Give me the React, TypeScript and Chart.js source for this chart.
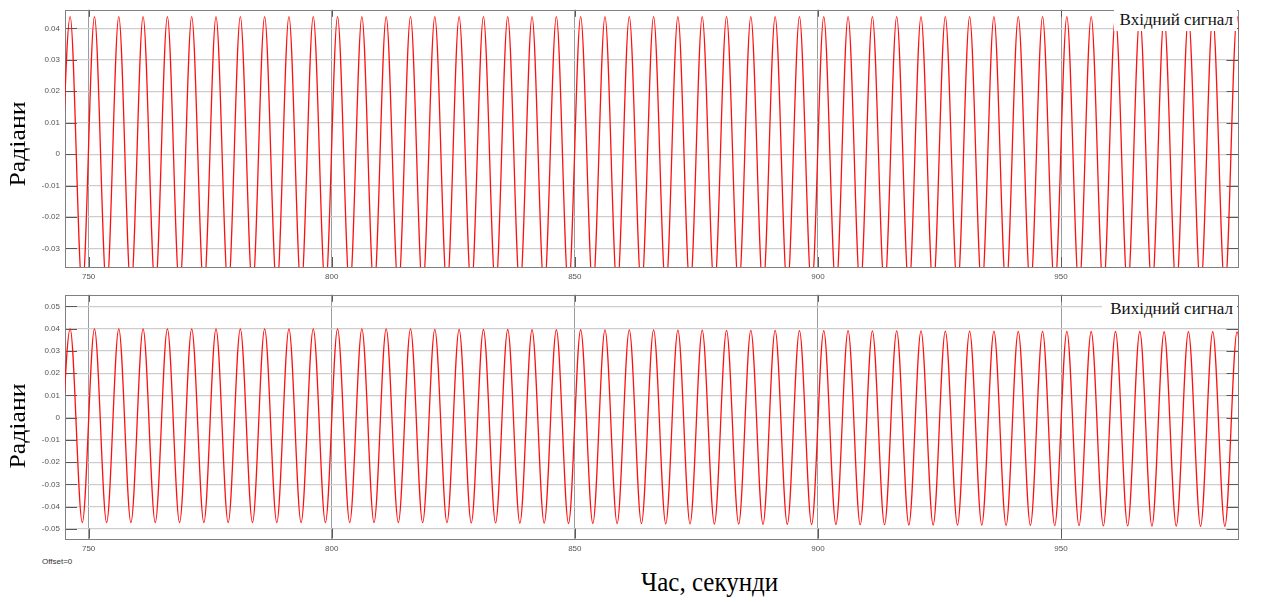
import React, { useEffect, useRef } from "react";
import { Chart, registerables } from "chart.js";

Chart.register(...registerables);

// Times (s) of the local maxima / minima
const peakTimes = [
  746.2, 751.2, 756.2, 761.2, 766.2, 771.2, 776.2, 781.2, 786.2, 791.2,
  796.2, 801.2, 806.2, 811.2, 816.2, 821.2, 826.2, 831.2, 836.2, 841.2,
  846.2, 851.2, 856.2, 861.2, 866.2, 871.2, 876.2, 881.2, 886.2, 891.2,
  896.2, 901.2, 906.2, 911.2, 916.2, 921.2, 926.2, 931.2, 936.2, 941.2,
  946.2, 951.2, 956.2, 961.2, 966.2, 971.2, 976.2, 981.2, 986.2,
];
const troughTimes = [
  743.7, 748.7, 753.7, 758.7, 763.7, 768.7, 773.7, 778.7, 783.7, 788.7,
  793.7, 798.7, 803.7, 808.7, 813.7, 818.7, 823.7, 828.7, 833.7, 838.7,
  843.7, 848.7, 853.7, 858.7, 863.7, 868.7, 873.7, 878.7, 883.7, 888.7,
  893.7, 898.7, 903.7, 908.7, 913.7, 918.7, 923.7, 928.7, 933.7, 938.7,
  943.7, 948.7, 953.7, 958.7, 963.7, 968.7, 973.7, 978.7, 983.7, 988.7,
];

// Input signal (top panel), radians
const inputPeaks = [
  0.0437, 0.0437, 0.0437, 0.0437, 0.0437, 0.0437, 0.0437, 0.0437, 0.0437, 0.0437,
  0.0437, 0.0437, 0.0437, 0.0437, 0.0437, 0.0437, 0.0437, 0.0437, 0.0437, 0.0437,
  0.0437, 0.0437, 0.0437, 0.0437, 0.0437, 0.0437, 0.0437, 0.0437, 0.0437, 0.0437,
  0.0437, 0.0437, 0.0437, 0.0437, 0.0437, 0.0437, 0.0437, 0.0437, 0.0437, 0.0437,
  0.0437, 0.0437, 0.0437, 0.0437, 0.0437, 0.0437, 0.0437, 0.0437, 0.0437,
];
const inputTroughs = [
  -0.043, -0.043, -0.043, -0.043, -0.043, -0.043, -0.043, -0.043, -0.043, -0.043,
  -0.043, -0.043, -0.043, -0.043, -0.043, -0.043, -0.043, -0.043, -0.043, -0.043,
  -0.043, -0.043, -0.043, -0.043, -0.043, -0.043, -0.043, -0.043, -0.043, -0.043,
  -0.043, -0.043, -0.043, -0.043, -0.043, -0.043, -0.043, -0.043, -0.043, -0.043,
  -0.043, -0.043, -0.043, -0.043, -0.043, -0.043, -0.043, -0.043, -0.043, -0.043,
];

// Output signal (bottom panel), radians
const outputPeaks = [
  0.0399, 0.0399, 0.0399, 0.0399, 0.0399, 0.0399, 0.0399, 0.0399, 0.0399, 0.0399,
  0.0399, 0.0399, 0.0399, 0.0399, 0.0399, 0.0397, 0.0397, 0.0396, 0.0396, 0.0395,
  0.0395, 0.0395, 0.0394, 0.0394, 0.0394, 0.0393, 0.0393, 0.0392, 0.0392, 0.0392,
  0.0391, 0.0391, 0.0391, 0.039, 0.039, 0.039, 0.0389, 0.0389, 0.0389, 0.0388,
  0.0388, 0.0388, 0.0387, 0.0387, 0.0387, 0.0386, 0.0386, 0.0386, 0.0385,
];
const outputTroughs = [
  -0.0471, -0.0471, -0.0471, -0.0471, -0.0471, -0.0471, -0.0471, -0.0471, -0.0471, -0.0471,
  -0.0471, -0.0471, -0.0471, -0.0471, -0.0471, -0.0472, -0.0472, -0.0473, -0.0473, -0.0474,
  -0.0474, -0.0475, -0.0475, -0.0476, -0.0476, -0.0477, -0.0477, -0.0478, -0.0478, -0.0479,
  -0.0479, -0.048, -0.048, -0.0481, -0.0481, -0.0482, -0.0482, -0.0483, -0.0483, -0.0484,
  -0.0484, -0.0485, -0.0485, -0.0486, -0.0486, -0.0487, -0.0487, -0.0488, -0.0488, -0.0489,
];

const xTickValues = [750, 800, 850, 900, 950];
const inputYTicks = [-0.03, -0.02, -0.01, 0, 0.01, 0.02, 0.03, 0.04];
const outputYTicks = [-0.05, -0.04, -0.03, -0.02, -0.01, 0, 0.01, 0.02, 0.03, 0.04, 0.05];

const X_MIN = 745.14;
const X_MAX = 986.5;

function buildPoints(pt: number[], pv: number[], tt: number[], tv: number[]) {
  const pts: { x: number; y: number }[] = [];
  pt.forEach((t, i) => pts.push({ x: t, y: pv[i] }));
  tt.forEach((t, i) => pts.push({ x: t, y: tv[i] }));
  return pts.sort((a, b) => a.x - b.x);
}

const framePlugin = {
  id: "frame",
  beforeDatasetsDraw(chart: any) {
    const { ctx, chartArea, scales } = chart;
    const { left, right, top, bottom } = chartArea;
    ctx.save();
    ctx.strokeStyle = "#5a5a5a";
    ctx.lineWidth = 1;
    ctx.beginPath();
    scales.y.ticks.forEach((t: any) => {
      const y = Math.round(scales.y.getPixelForValue(t.value)) + 0.5;
      ctx.moveTo(left, y);
      ctx.lineTo(left + 12, y);
      ctx.moveTo(right - 12, y);
      ctx.lineTo(right, y);
    });
    scales.x.ticks.forEach((t: any) => {
      const x = Math.round(scales.x.getPixelForValue(t.value)) + 0.5;
      ctx.moveTo(x, bottom);
      ctx.lineTo(x, bottom - 10);
      ctx.moveTo(x, top);
      ctx.lineTo(x, top + 7);
    });
    ctx.stroke();
    ctx.strokeStyle = "#808080";
    ctx.strokeRect(Math.round(left) + 0.5, Math.round(top) + 0.5, Math.round(right - left) - 1, Math.round(bottom - top));
    ctx.restore();
  },
};

function makeConfig(
  points: { x: number; y: number }[],
  yMin: number,
  yMax: number,
  yTicks: number[],
  padTop: number,
  xAxisHeight: number
): any {
  return {
    type: "line",
    data: {
      datasets: [
        {
          data: points,
          borderColor: "#ff1010",
          borderWidth: 1.3,
          pointRadius: 0,
          fill: false,
          cubicInterpolationMode: "monotone",
          clip: 0,
        },
      ],
    },
    plugins: [framePlugin],
    options: {
      animation: false,
      responsive: false,
      maintainAspectRatio: false,
      events: [],
      layout: { padding: { top: padTop, right: 22.5, left: 0, bottom: 0 } },
      plugins: { legend: { display: false }, tooltip: { enabled: false }, title: { display: false } },
      scales: {
        x: {
          type: "linear",
          min: X_MIN,
          max: X_MAX,
          afterBuildTicks: (s: any) => {
            s.ticks = xTickValues.map((v) => ({ value: v }));
          },
          afterFit: (s: any) => {
            s.height = xAxisHeight;
          },
          grid: { color: "#9c9c9c", lineWidth: 1, drawTicks: false },
          border: { display: false },
          ticks: {
            padding: 5,
            autoSkip: false,
            maxRotation: 0,
            color: "#555555",
            font: { family: "Liberation Sans", size: 8 },
            callback: (v: any) => String(v),
          },
        },
        y: {
          type: "linear",
          min: yMin,
          max: yMax,
          afterBuildTicks: (s: any) => {
            s.ticks = yTicks.map((v) => ({ value: v }));
          },
          afterFit: (s: any) => {
            s.width = 65;
          },
          grid: { color: "#cdcdcd", lineWidth: 1.2, drawTicks: false },
          border: { display: false },
          ticks: {
            padding: 5,
            autoSkip: false,
            color: "#555555",
            font: { family: "Liberation Sans", size: 8 },
            callback: (v: any) => String(Math.round(v * 100) / 100),
          },
        },
      },
    },
  };
}

const serif = "'Liberation Serif', 'Times New Roman', serif";

export default function App() {
  const topRef = useRef<HTMLCanvasElement | null>(null);
  const botRef = useRef<HTMLCanvasElement | null>(null);

  useEffect(() => {
    const c1 = new Chart(
      topRef.current as HTMLCanvasElement,
      makeConfig(buildPoints(peakTimes, inputPeaks, troughTimes, inputTroughs), -0.0359, 0.0459, inputYTicks, 8, 18)
    );
    const c2 = new Chart(
      botRef.current as HTMLCanvasElement,
      makeConfig(buildPoints(peakTimes, outputPeaks, troughTimes, outputTroughs), -0.0543, 0.0552, outputYTicks, 7.5, 16.5)
    );
    return () => {
      c1.destroy();
      c2.destroy();
    };
  }, []);

  return (
    <div style={{ position: "fixed", left: 0, top: 0, width: 1261, height: 602, background: "#fff", overflow: "hidden" }}>
      <canvas ref={topRef} width={1261} height={285} style={{ position: "absolute", left: 0, top: 0, width: 1261, height: 285 }} />
      <canvas ref={botRef} width={1261} height={270} style={{ position: "absolute", left: 0, top: 285, width: 1261, height: 270 }} />

      <div style={{ position: "absolute", left: 1114, top: 9, width: 119, height: 22, paddingRight: 4, background: "#fff", fontFamily: serif, fontSize: 17, lineHeight: "22px", textAlign: "right", color: "#111", whiteSpace: "nowrap" }}>
        Вхідний сигнал
      </div>
      <div style={{ position: "absolute", left: 1102, top: 298, width: 131, height: 22, paddingRight: 4, background: "#fff", fontFamily: serif, fontSize: 17, lineHeight: "22px", textAlign: "right", color: "#111", whiteSpace: "nowrap" }}>
        Вихідний сигнал
      </div>

      <div style={{ position: "absolute", left: 17, top: 144, transform: "translate(-50%, -50%) rotate(-90deg) scaleX(1.12)", fontFamily: serif, fontSize: 23, lineHeight: 1, whiteSpace: "nowrap", color: "#000" }}>
        Радіани
      </div>
      <div style={{ position: "absolute", left: 16.5, top: 425.5, transform: "translate(-50%, -50%) rotate(-90deg) scaleX(1.12)", fontFamily: serif, fontSize: 23, lineHeight: 1, whiteSpace: "nowrap", color: "#000" }}>
        Радіани
      </div>

      <div style={{ position: "absolute", left: 42, top: 557, fontFamily: "'Liberation Sans', Arial, sans-serif", fontSize: 8, lineHeight: "9px", color: "#333", whiteSpace: "nowrap" }}>
        Offset=0
      </div>

      <div style={{ position: "absolute", left: 641, top: 567, transformOrigin: "0 0", transform: "scaleY(1.12)", fontFamily: serif, fontSize: 25, lineHeight: 1, whiteSpace: "nowrap", color: "#000" }}>
        Час, секунди
      </div>
    </div>
  );
}
